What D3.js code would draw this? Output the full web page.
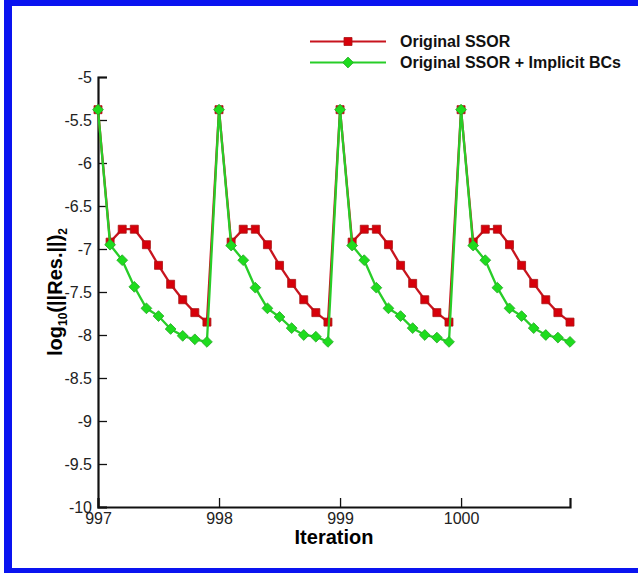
<!DOCTYPE html>
<meta charset="utf-8">
<style>
  body { margin: 0; background: #fff; }
  svg { display: block; font-family: "Liberation Sans", Arial, sans-serif; }
</style>
<body>
<div id="vis"></div>
<script src="https://cdn.jsdelivr.net/npm/d3@7"></script>
<script>

const width = 638,
    height = 573;

const red = 'rgb(200, 20, 30)';
const green = 'rgb(40, 205, 40)';

// iteration (sub-steps of 0.1 within each outer iteration)
const iterations = [
  997.0, 997.1, 997.2, 997.3, 997.4, 997.5, 997.6, 997.7, 997.8, 997.9,
  998.0, 998.1, 998.2, 998.3, 998.4, 998.5, 998.6, 998.7, 998.8, 998.9,
  999.0, 999.1, 999.2, 999.3, 999.4, 999.5, 999.6, 999.7, 999.8, 999.9,
  1000.0, 1000.1, 1000.2, 1000.3, 1000.4, 1000.5, 1000.6, 1000.7, 1000.8, 1000.9
];

const ssor = [
  -5.38, -6.92, -6.77, -6.77, -6.95, -7.19, -7.41, -7.59, -7.74, -7.85,
  -5.38, -6.92, -6.77, -6.77, -6.95, -7.19, -7.40, -7.59, -7.74, -7.85,
  -5.38, -6.92, -6.77, -6.77, -6.95, -7.19, -7.40, -7.59, -7.74, -7.85,
  -5.38, -6.92, -6.77, -6.77, -6.95, -7.19, -7.40, -7.59, -7.74, -7.85
];

const ssorImplicit = [
  -5.38, -6.95, -7.13, -7.44, -7.69, -7.78, -7.93, -8.01, -8.05, -8.08,
  -5.38, -6.96, -7.13, -7.45, -7.69, -7.79, -7.92, -8.00, -8.02, -8.08,
  -5.38, -6.96, -7.13, -7.45, -7.69, -7.78, -7.92, -8.00, -8.03, -8.08,
  -5.38, -6.96, -7.13, -7.45, -7.69, -7.78, -7.92, -8.00, -8.03, -8.08
];

const xMajor = [997, 998, 999, 1000];
const yMajor = [-10, -9.5, -9, -8.5, -8, -7.5, -7, -6.5, -6, -5.5, -5];
const legendLabels = ['Original SSOR', 'Original SSOR + Implicit BCs'];

const x = d3.scaleLinear().domain([997, 1000.9]).range([98, 570]);
const y = d3.scaleLinear().domain([-10, -5]).range([507, 77]);

const svg = d3.select('#vis')
    .append('svg')
    .attr('width', width)
    .attr('height', height);

// blue frame
svg.append('rect').attr('x', 4).attr('y', 0).attr('width', 8).attr('height', height).style('fill', 'rgb(10,20,240)');
svg.append('rect').attr('x', 4).attr('y', 0).attr('width', width).attr('height', 6).style('fill', 'rgb(10,20,240)');
svg.append('rect').attr('x', 4).attr('y', 568).attr('width', width).attr('height', 5).style('fill', 'rgb(10,20,240)');

// axes
const xAxis = d3.axisBottom(x)
    .tickValues(xMajor)
    .tickSize(-9)
    .tickPadding(6)
    .tickFormat(d3.format('d'));
const xMinor = d3.axisBottom(x)
    .tickValues(d3.range(9972, 10010, 2).map(d => d / 10).filter(d => !xMajor.includes(d)))
    .tickSize(-4)
    .tickFormat('');
const yAxis = d3.axisLeft(y)
    .tickValues(yMajor)
    .tickSize(-9)
    .tickPadding(6)
    .tickFormat(d => d3.format('~g')(d).replace('−', '-'));
const yMinor = d3.axisLeft(y)
    .tickValues(d3.range(-99, -50, 1).map(d => d / 10).filter(d => !yMajor.includes(d)))
    .tickSize(-4)
    .tickFormat('');

const gx = svg.append('g').attr('transform', 'translate(0,507)');
gx.call(xMinor);
gx.call(xAxis);
const gy = svg.append('g').attr('transform', 'translate(98,0)');
gy.call(yMinor);
gy.call(yAxis);

svg.selectAll('.domain').style('stroke', '#111').style('stroke-width', 2.2);
svg.selectAll('.tick line').style('stroke', '#111').style('stroke-width', 1.3);
svg.selectAll('.tick text')
    .style('font-size', '16px')
    .style('fill', '#222')
    .style('font-family', '"Liberation Sans", Arial, sans-serif');

svg.append('text')
    .attr('x', 334)
    .attr('y', 544)
    .style('text-anchor', 'middle')
    .style('font-size', '20px')
    .style('font-weight', 'bold')
    .text('Iteration');

const ylab = svg.append('text')
    .attr('transform', 'translate(62,292) rotate(-90)')
    .style('text-anchor', 'middle')
    .style('font-size', '20px')
    .style('font-weight', 'bold');
ylab.append('tspan').text('log');
ylab.append('tspan').attr('dy', 5).style('font-size', '12px').text('10');
ylab.append('tspan').attr('dy', -5).text('(||Res.||)');
ylab.append('tspan').attr('dy', 5).style('font-size', '12px').text('2');

// series
const line = d3.line()
    .x(d => x(d[0]))
    .y(d => y(d[1]));

const square = d3.symbol().type(d3.symbolSquare).size(64);
const diamond = d3.symbol().type(d3.symbolSquare).size(58);

const series = [
  {name: legendLabels[0], values: ssor, color: red, fill: 'rgb(215,0,10)', stroke: 'rgb(170,20,20)', sym: square, rot: 0},
  {name: legendLabels[1], values: ssorImplicit, color: green, fill: 'rgb(30,220,30)', stroke: 'rgb(40,170,40)', sym: diamond, rot: 45}
];

series.forEach(s => {
  const pts = iterations.map((it, i) => [it, s.values[i]]);
  svg.append('path')
    .attr('d', line(pts))
    .style('fill', 'none')
    .style('stroke', s.color)
    .style('stroke-width', 2.3);
  svg.selectAll(null)
    .data(pts)
    .enter().append('path')
    .attr('d', s.sym())
    .attr('transform', d => 'translate(' + x(d[0]) + ',' + y(d[1]) + ') rotate(' + s.rot + ')')
    .style('fill', s.fill)
    .style('stroke', s.stroke)
    .style('stroke-width', 0.8);
});

// legend
const legend = svg.append('g');
series.forEach((s, i) => {
  const ly = 41.5 + i * 21;
  legend.append('line')
    .attr('x1', 310).attr('x2', 386)
    .attr('y1', ly).attr('y2', ly)
    .style('stroke', s.color)
    .style('stroke-width', 2);
  legend.append('path')
    .attr('d', s.sym())
    .attr('transform', 'translate(348,' + ly + ') rotate(' + s.rot + ')')
    .style('fill', s.fill)
    .style('stroke', s.stroke)
    .style('stroke-width', 0.8);
  legend.append('text')
    .attr('x', 400)
    .attr('y', ly + 5.5)
    .style('font-size', '16px')
    .style('font-weight', 'bold')
    .style('fill', '#111')
    .text(s.name);
});

</script>
</body>
